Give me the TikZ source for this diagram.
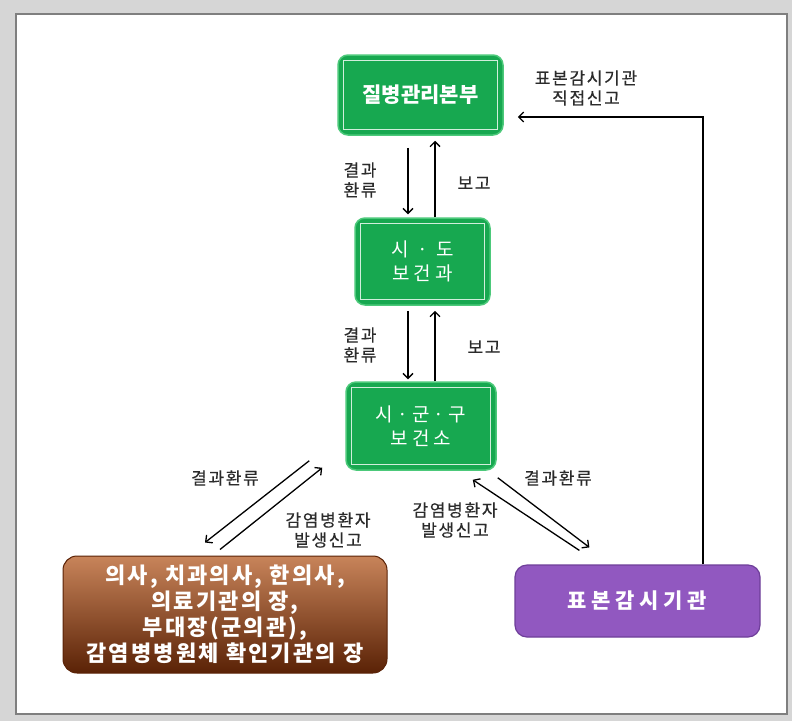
\documentclass[tikz,border=0pt]{standalone}
\usepackage{fontspec}
\setmainfont{Noto Sans CJK KR}
\newfontfamily\krwide[LetterSpace=10]{Noto Sans CJK KR}
\newfontfamily\krspaced[LetterSpace=22]{Noto Sans CJK KR}
\newfontfamily\krlabel[LetterSpace=10,FakeBold=0.4]{Noto Sans CJK KR}
\usetikzlibrary{arrows.meta}
\definecolor{boxgreen}{HTML}{17A850}
\definecolor{greenedge}{HTML}{4CC97A}
\definecolor{purplebox}{HTML}{9158C0}
\definecolor{purpleedge}{HTML}{6E3E99}
\definecolor{browntop}{HTML}{C8845A}
\definecolor{brownmid}{HTML}{A45A2E}
\definecolor{brownbot}{HTML}{5A2206}
\definecolor{labelgray}{HTML}{2B2B2B}
\definecolor{pagegray}{HTML}{D6D6D6}
\definecolor{framegray}{HTML}{7F7F7F}

\begin{document}
\begin{tikzpicture}[x=1pt,y=-1pt,
  office/.style={draw=greenedge,line width=1.5pt,fill=boxgreen,rounded corners=10pt,
    text=white,align=center,inner sep=0pt},
  lbl/.style={text=labelgray,font=\krlabel\fontsize{17}{20}\selectfont,align=center},
  flow/.style={->,line width=1.3pt},
  >={Straight Barb[length=5pt,width=10pt]}]
  \fill[pagegray] (0,0) rectangle (792,721);
  \draw[framegray,fill=white,line width=1.2pt] (16,14) rectangle (787,714);

  \node[office,minimum width=165pt,minimum height=80pt,
    font=\fontsize{21}{24}\selectfont\bfseries] (kdca) at (420.5,95) {질병관리본부};
  \node[office,minimum width=135pt,minimum height=87pt,
    font=\krspaced\fontsize{19}{24}\selectfont] (sido) at (422.5,261.5) {시 · 도\\보건과};
  \node[office,minimum width=150pt,minimum height=88pt,
    font=\krspaced\fontsize{19}{24}\selectfont] (sigungu) at (421,426) {시·군·구\\보건소};
  \foreach \n in {kdca,sido,sigungu}
    \draw[white!80!boxgreen,line width=1pt] ([shift={(6,6)}]\n.north west) rectangle ([shift={(-6,-6)}]\n.south east);

  \node[draw=brownbot,line width=1pt,rounded corners=14pt,top color=browntop,middle color=brownmid,
    bottom color=brownbot,minimum width=324pt,minimum height=117pt,inner sep=0pt,
    text=white,align=center,font=\krwide\fontsize{22}{26}\selectfont\bfseries] (doctors) at (225,614.5)
    {의사, 치과의사, 한의사,\\의료기관의 장,\\부대장(군의관),\\감염병병원체 확인기관의 장};
  \node[draw=purpleedge,line width=1.2pt,fill=purplebox,rounded corners=12pt,
    minimum width=245pt,minimum height=72pt,text=white,
    font=\krspaced\fontsize{21}{24}\selectfont\bfseries] (sentinel) at (637.5,601) {표본감시기관};

  \draw[flow] ([shift={(-12.5,12)}]kdca.south) -- ([shift={(-14.5,-3)}]sido.north);
  \draw[flow] ([xshift=12.5]sido.north) -- ([shift={(14.5,5)}]kdca.south);
  \node[lbl] (ret1) at (360,180) {결과\\환류};
  \node[lbl] (rep1) at (474,183) {보고};

  \draw[flow] ([shift={(-14.5,5)}]sido.south) -- ([shift={(-13,-2)}]sigungu.north);
  \draw[flow] ([xshift=14]sigungu.north) -- ([shift={(12.5,5)}]sido.south);
  \node[lbl] (ret2) at (360,345) {결과\\환류};
  \node[lbl] (rep2) at (484,347) {보고};

  \draw[flow] ([shift={(-36,-10)}]sigungu.south west) -- ([shift={(-20,-13)}]doctors.north);
  \draw[flow] ([shift={(-5,-6)}]doctors.north) -- ([shift={(-23,-3)}]sigungu.south west);
  \node[lbl] (ret3) at (225,478) {결과환류};
  \node[lbl] (rep3) at (328,530) {감염병환자\\발생신고};

  \draw[flow] ([shift={(1,7)}]sigungu.south east) -- ([shift={(75,-17)}]sentinel.north west);
  \draw[flow] ([shift={(65,-14)}]sentinel.north west) -- ([shift={(-24,9)}]sigungu.south east);
  \node[lbl] (ret4) at (558,478) {결과환류};
  \node[lbl] (rep4) at (455,520) {감염병환자\\발생신고};

  \draw[flow] ([xshift=65.5]sentinel.north) |- ([shift={(14,22)}]kdca.east);
  \node[lbl] (direct) at (586,88) {표본감시기관\\직접신고};
\end{tikzpicture}
\end{document}
